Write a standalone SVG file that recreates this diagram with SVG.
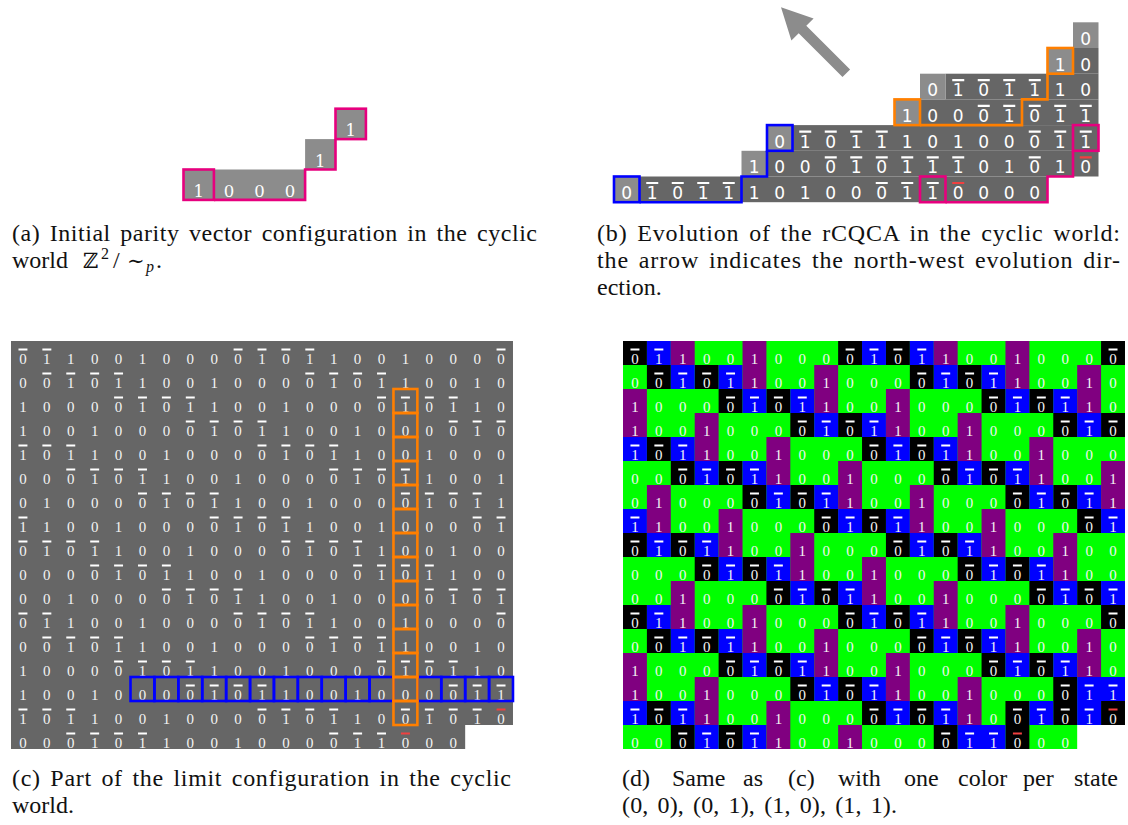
<svg xmlns="http://www.w3.org/2000/svg" xmlns:xlink="http://www.w3.org/1999/xlink" width="1128" height="825" viewBox="0 0 1128 825">
<style>
.ta{font-family:"DejaVu Serif",serif;font-size:16.5px;fill:#fff;text-anchor:middle}
.tb{font-family:"DejaVu Sans",sans-serif;font-size:17px;fill:#fff;text-anchor:middle}
.tc{font-family:"Liberation Serif",serif;font-size:15px;fill:#f4f4f4;text-anchor:middle}
.cap{font-family:"Liberation Serif",serif;font-size:24px;fill:#111;word-spacing:3px}
.box{fill:none;stroke-width:2.6}
.pink{stroke:#e6007e}
.blue{stroke:#0000ff}
.orange{stroke:#ff7f00}
.bar{fill:none;stroke:#fff;stroke-width:2}
.red{fill:none;stroke:#f04040;stroke-width:2}
</style>
<defs>
<path id="gridbars" d="M7.5 8.5h9M31.5 8.5h9M223.5 8.5h9M247.5 8.5h9M271.5 8.5h9M295.5 8.5h9M487.5 8.5h9
M31.5 32.5h9M55.5 32.5h9M79.5 32.5h9M103.5 32.5h9M295.5 32.5h9M319.5 32.5h9M343.5 32.5h9M367.5 32.5h9
M103.5 56.5h9M127.5 56.5h9M151.5 56.5h9M175.5 56.5h9M367.5 56.5h9M391.5 56.5h9M415.5 56.5h9M439.5 56.5h9
M175.5 80.5h9M199.5 80.5h9M223.5 80.5h9M247.5 80.5h9M439.5 80.5h9M463.5 80.5h9M487.5 80.5h9
M7.5 104.5h9M31.5 104.5h9M55.5 104.5h9M247.5 104.5h9M271.5 104.5h9M295.5 104.5h9M319.5 104.5h9
M55.5 128.5h9M79.5 128.5h9M103.5 128.5h9M127.5 128.5h9M319.5 128.5h9M343.5 128.5h9M367.5 128.5h9M391.5 128.5h9
M127.5 152.5h9M151.5 152.5h9M175.5 152.5h9M199.5 152.5h9M391.5 152.5h9M415.5 152.5h9M439.5 152.5h9M463.5 152.5h9
M7.5 176.5h9M199.5 176.5h9M223.5 176.5h9M247.5 176.5h9M271.5 176.5h9M463.5 176.5h9M487.5 176.5h9
M7.5 200.5h9M31.5 200.5h9M55.5 200.5h9M79.5 200.5h9M271.5 200.5h9M295.5 200.5h9M319.5 200.5h9M343.5 200.5h9
M79.5 224.5h9M103.5 224.5h9M127.5 224.5h9M151.5 224.5h9M343.5 224.5h9M367.5 224.5h9M391.5 224.5h9M415.5 224.5h9
M151.5 248.5h9M175.5 248.5h9M199.5 248.5h9M223.5 248.5h9M415.5 248.5h9M439.5 248.5h9M463.5 248.5h9M487.5 248.5h9
M7.5 272.5h9M31.5 272.5h9M223.5 272.5h9M247.5 272.5h9M271.5 272.5h9M295.5 272.5h9M487.5 272.5h9
M31.5 296.5h9M55.5 296.5h9M79.5 296.5h9M103.5 296.5h9M295.5 296.5h9M319.5 296.5h9M343.5 296.5h9M367.5 296.5h9
M103.5 320.5h9M127.5 320.5h9M151.5 320.5h9M175.5 320.5h9M367.5 320.5h9M391.5 320.5h9M415.5 320.5h9M439.5 320.5h9
M175.5 344.5h9M199.5 344.5h9M223.5 344.5h9M247.5 344.5h9M439.5 344.5h9M463.5 344.5h9M487.5 344.5h9
M7.5 368.5h9M31.5 368.5h9M55.5 368.5h9M247.5 368.5h9M271.5 368.5h9M295.5 368.5h9M319.5 368.5h9M391.5 368.5h9M415.5 368.5h9M439.5 368.5h9M463.5 368.5h9
M55.5 392.5h9M79.5 392.5h9M103.5 392.5h9M127.5 392.5h9M319.5 392.5h9M343.5 392.5h9M367.5 392.5h9"/>
<path id="redbars" d="M487.5 368.5h9M391.5 392.5h9"/>
</defs>

<g id="panel-a">
<rect x="183.5" y="169.5" width="121.6" height="30.4" fill="#8c8c8c"/>
<rect x="305.1" y="139.1" width="30.4" height="30.4" fill="#8c8c8c"/>
<rect x="335.5" y="108.7" width="30.4" height="30.4" fill="#8c8c8c"/>
<text class="ta" x="198.7 229.1 259.5 289.9" y="197">1000</text>
<text class="ta" x="320.3" y="166.6">1</text>
<text class="ta" x="350.7" y="136.2">1</text>
<rect class="box pink" x="183.5" y="169.5" width="30.4" height="30.4"/>
<path class="box pink" d="M213.9 199.9H305.1V169.5H335.5V139.1"/>
<rect class="box pink" x="335.5" y="108.7" width="30.4" height="30.4"/>
</g>

<g id="panel-b">
<polygon fill="#8c8c8c" points="850.1,69.5 806.3,25.7 813.6,18.5 781,7.3 791.4,40.5 798.7,33.3 842.5,77.1"/>
<g fill="#666">
<rect x="639.5" y="176.5" width="408" height="25.7"/>
<rect x="767" y="150.8" width="331.5" height="25.7"/>
<rect x="792.5" y="125.1" width="306" height="25.7"/>
<rect x="920" y="99.4" width="178.5" height="25.7"/>
<rect x="945.5" y="73.7" width="153" height="25.7"/>
<rect x="1073" y="48" width="25.5" height="25.7"/>
</g>
<g fill="#8c8c8c">
<rect x="614" y="176.5" width="25.5" height="25.7"/>
<rect x="741.5" y="150.8" width="25.5" height="25.7"/>
<rect x="767" y="125.1" width="25.5" height="25.7"/>
<rect x="894.5" y="99.4" width="25.5" height="25.7"/>
<rect x="920" y="73.7" width="25.5" height="25.7"/>
<rect x="1047.5" y="48" width="25.5" height="25.7"/>
<rect x="1073" y="22.3" width="25.5" height="25.7"/>
</g>
<text class="tb" x="626.75 652.25 677.75 703.25 728.75 754.25 779.75 805.25 830.75 856.25 881.75 907.25 932.75 958.25 983.75 1009.25 1034.75" y="199">01011101000110000</text>
<text class="tb" x="754.25 779.75 805.25 830.75 856.25 881.75 907.25 932.75 958.25 983.75 1009.25 1034.75 1060.25 1085.75" y="173.3">10001011101010</text>
<text class="tb" x="779.75 805.25 830.75 856.25 881.75 907.25 932.75 958.25 983.75 1009.25 1034.75 1060.25 1085.75" y="147.6">0101110100011</text>
<text class="tb" x="907.25 932.75 958.25 983.75 1009.25 1034.75 1060.25 1085.75" y="121.9">10001011</text>
<text class="tb" x="932.75 958.25 983.75 1009.25 1034.75 1060.25 1085.75" y="96.2">0101110</text>
<text class="tb" x="1060.25 1085.75" y="70.5">10</text>
<text class="tb" x="1085.75" y="44.8">0</text>
<path fill="none" stroke="#fff" stroke-width="2.2" d="M646.25 183h12M671.75 183h12M697.25 183h12M722.75 183h12M875.75 183h12M901.25 183h12M926.75 183h12
M824.75 157.3h12M850.25 157.3h12M875.75 157.3h12M901.25 157.3h12M926.75 157.3h12M952.25 157.3h12M1028.75 157.3h12
M799.25 131.6h12M824.75 131.6h12M850.25 131.6h12M875.75 131.6h12M1028.75 131.6h12M1054.25 131.6h12M1079.75 131.6h12
M977.75 105.9h12M1003.25 105.9h12M1028.75 105.9h12M1054.25 105.9h12M1079.75 105.9h12
M952.25 80.2h12M977.75 80.2h12M1003.25 80.2h12M1028.75 80.2h12"/>
<path fill="none" stroke="#f04040" stroke-width="2.2" d="M952.25 183h12M1079.75 157.3h12"/>
<rect class="box blue" x="614" y="176.5" width="25.5" height="25.7"/>
<path class="box blue" d="M639.5 202.2H741.5V176.5H767V150.8"/>
<rect class="box blue" x="767" y="125.1" width="25.5" height="25.7"/>
<rect class="box orange" x="894.5" y="99.4" width="25.5" height="25.7"/>
<path class="box orange" d="M920 125.1H1022V99.4H1047.5V73.7"/>
<rect class="box orange" x="1047.5" y="48" width="25.5" height="25.7"/>
<rect class="box pink" x="920" y="176.5" width="25.5" height="25.7"/>
<path class="box pink" d="M945.5 202.2H1047.5V176.5H1073V150.8"/>
<rect class="box pink" x="1073" y="125.1" width="25.5" height="25.7"/>
</g>

<g id="panel-c" transform="translate(11 341) scale(0.996 1)">
<path fill="#666" d="M0 0H504V384H456V408H0Z"/>
<g class="tc">
<text x="12 36 60 84 108 132 156 180 204 228 252 276 300 324 348 372 396 420 444 468 492" y="23">011001000010110010000</text>
<text x="12 36 60 84 108 132 156 180 204 228 252 276 300 324 348 372 396 420 444 468 492" y="47">001011001000010110010</text>
<text x="12 36 60 84 108 132 156 180 204 228 252 276 300 324 348 372 396 420 444 468 492" y="71">100001011001000010110</text>
<text x="12 36 60 84 108 132 156 180 204 228 252 276 300 324 348 372 396 420 444 468 492" y="95">100100001011001000010</text>
<text x="12 36 60 84 108 132 156 180 204 228 252 276 300 324 348 372 396 420 444 468 492" y="119">101100100001011001000</text>
<text x="12 36 60 84 108 132 156 180 204 228 252 276 300 324 348 372 396 420 444 468 492" y="143">000101100100001011001</text>
<text x="12 36 60 84 108 132 156 180 204 228 252 276 300 324 348 372 396 420 444 468 492" y="167">010000101100100001011</text>
<text x="12 36 60 84 108 132 156 180 204 228 252 276 300 324 348 372 396 420 444 468 492" y="191">110010000101100100001</text>
<text x="12 36 60 84 108 132 156 180 204 228 252 276 300 324 348 372 396 420 444 468 492" y="215">010110010000101100100</text>
<text x="12 36 60 84 108 132 156 180 204 228 252 276 300 324 348 372 396 420 444 468 492" y="239">000010110010000101100</text>
<text x="12 36 60 84 108 132 156 180 204 228 252 276 300 324 348 372 396 420 444 468 492" y="263">001000010110010000101</text>
<text x="12 36 60 84 108 132 156 180 204 228 252 276 300 324 348 372 396 420 444 468 492" y="287">011001000010110010000</text>
<text x="12 36 60 84 108 132 156 180 204 228 252 276 300 324 348 372 396 420 444 468 492" y="311">001011001000010110010</text>
<text x="12 36 60 84 108 132 156 180 204 228 252 276 300 324 348 372 396 420 444 468 492" y="335">100001011001000010110</text>
<text x="12 36 60 84 108 132 156 180 204 228 252 276 300 324 348 372 396 420 444 468 492" y="359">100100001011001000011</text>
<text x="12 36 60 84 108 132 156 180 204 228 252 276 300 324 348 372 396 420 444 468 492" y="383">101100100001011001010</text>
<text x="12 36 60 84 108 132 156 180 204 228 252 276 300 324 348 372 396 420 444" y="407">0001011001000011000</text>
</g>
<use xlink:href="#gridbars" class="bar"/>
<use xlink:href="#redbars" class="red"/>
<g class="box blue">
<rect x="120" y="336" width="24" height="24"/><rect x="144" y="336" width="24" height="24"/><rect x="168" y="336" width="24" height="24"/><rect x="192" y="336" width="24" height="24"/><rect x="216" y="336" width="24" height="24"/><rect x="240" y="336" width="24" height="24"/><rect x="264" y="336" width="24" height="24"/><rect x="288" y="336" width="24" height="24"/><rect x="312" y="336" width="24" height="24"/><rect x="336" y="336" width="24" height="24"/><rect x="360" y="336" width="24" height="24"/><rect x="408" y="336" width="24" height="24"/><rect x="432" y="336" width="24" height="24"/><rect x="456" y="336" width="24" height="24"/><rect x="480" y="336" width="24" height="24"/>
</g>
<g class="box orange">
<rect x="384" y="48" width="24" height="24"/><rect x="384" y="72" width="24" height="24"/><rect x="384" y="96" width="24" height="24"/><rect x="384" y="120" width="24" height="24"/><rect x="384" y="144" width="24" height="24"/><rect x="384" y="168" width="24" height="24"/><rect x="384" y="192" width="24" height="24"/><rect x="384" y="216" width="24" height="24"/><rect x="384" y="240" width="24" height="24"/><rect x="384" y="264" width="24" height="24"/><rect x="384" y="288" width="24" height="24"/><rect x="384" y="312" width="24" height="24"/><rect x="384" y="336" width="24" height="24"/><rect x="384" y="360" width="24" height="24"/>
</g>
</g>

<g id="panel-d" transform="translate(623 341) scale(0.996 1)">
<path fill="#00ff00" d="M0 0H504V384H456V408H0Z"/>
<path fill="#000" d="M0 0h24v24h-24zM216 0h24v24h-24zM264 0h24v24h-24zM480 0h24v24h-24z
M24 24h24v24h-24zM72 24h24v24h-24zM288 24h24v24h-24zM336 24h24v24h-24z
M96 48h24v24h-24zM144 48h24v24h-24zM360 48h24v24h-24zM408 48h24v24h-24z
M168 72h24v24h-24zM216 72h24v24h-24zM432 72h24v24h-24zM480 72h24v24h-24z
M24 96h24v24h-24zM240 96h24v24h-24zM288 96h24v24h-24z
M48 120h24v24h-24zM96 120h24v24h-24zM312 120h24v24h-24zM360 120h24v24h-24z
M120 144h24v24h-24zM168 144h24v24h-24zM384 144h24v24h-24zM432 144h24v24h-24z
M192 168h24v24h-24zM240 168h24v24h-24zM456 168h24v24h-24z
M0 192h24v24h-24zM48 192h24v24h-24zM264 192h24v24h-24zM312 192h24v24h-24z
M72 216h24v24h-24zM120 216h24v24h-24zM336 216h24v24h-24zM384 216h24v24h-24z
M144 240h24v24h-24zM192 240h24v24h-24zM408 240h24v24h-24zM456 240h24v24h-24z
M0 264h24v24h-24zM216 264h24v24h-24zM264 264h24v24h-24zM480 264h24v24h-24z
M24 288h24v24h-24zM72 288h24v24h-24zM288 288h24v24h-24zM336 288h24v24h-24z
M96 312h24v24h-24zM144 312h24v24h-24zM360 312h24v24h-24zM408 312h24v24h-24z
M168 336h24v24h-24zM216 336h24v24h-24zM432 336h24v24h-24z
M24 360h24v24h-24zM240 360h24v24h-24zM288 360h24v24h-24zM384 360h24v24h-24zM432 360h24v24h-24zM480 360h24v24h-24z
M48 384h24v24h-24zM96 384h24v24h-24zM312 384h24v24h-24zM384 384h24v24h-24z"/>
<path fill="#0000ff" d="M24 0h24v24h-24zM240 0h24v24h-24zM288 0h24v24h-24z
M48 24h24v24h-24zM96 24h24v24h-24zM312 24h24v24h-24zM360 24h24v24h-24z
M120 48h24v24h-24zM168 48h24v24h-24zM384 48h24v24h-24zM432 48h24v24h-24z
M192 72h24v24h-24zM240 72h24v24h-24zM456 72h24v24h-24z
M0 96h24v24h-24zM48 96h24v24h-24zM264 96h24v24h-24zM312 96h24v24h-24z
M72 120h24v24h-24zM120 120h24v24h-24zM336 120h24v24h-24zM384 120h24v24h-24z
M144 144h24v24h-24zM192 144h24v24h-24zM408 144h24v24h-24zM456 144h24v24h-24z
M0 168h24v24h-24zM216 168h24v24h-24zM264 168h24v24h-24zM480 168h24v24h-24z
M24 192h24v24h-24zM72 192h24v24h-24zM288 192h24v24h-24zM336 192h24v24h-24z
M96 216h24v24h-24zM144 216h24v24h-24zM360 216h24v24h-24zM408 216h24v24h-24z
M168 240h24v24h-24zM216 240h24v24h-24zM432 240h24v24h-24zM480 240h24v24h-24z
M24 264h24v24h-24zM240 264h24v24h-24zM288 264h24v24h-24z
M48 288h24v24h-24zM96 288h24v24h-24zM312 288h24v24h-24zM360 288h24v24h-24z
M120 312h24v24h-24zM168 312h24v24h-24zM384 312h24v24h-24zM432 312h24v24h-24z
M192 336h24v24h-24zM240 336h24v24h-24zM456 336h24v24h-24zM480 336h24v24h-24z
M0 360h24v24h-24zM48 360h24v24h-24zM264 360h24v24h-24zM312 360h24v24h-24zM408 360h24v24h-24zM456 360h24v24h-24z
M72 384h24v24h-24zM120 384h24v24h-24zM336 384h24v24h-24zM360 384h24v24h-24z"/>
<path fill="#800080" d="M48 0h24v24h-24zM120 0h24v24h-24zM312 0h24v24h-24zM384 0h24v24h-24z
M120 24h24v24h-24zM192 24h24v24h-24zM384 24h24v24h-24zM456 24h24v24h-24z
M0 48h24v24h-24zM192 48h24v24h-24zM264 48h24v24h-24zM456 48h24v24h-24z
M0 72h24v24h-24zM72 72h24v24h-24zM264 72h24v24h-24zM336 72h24v24h-24z
M72 96h24v24h-24zM144 96h24v24h-24zM336 96h24v24h-24zM408 96h24v24h-24z
M144 120h24v24h-24zM216 120h24v24h-24zM408 120h24v24h-24zM480 120h24v24h-24z
M24 144h24v24h-24zM216 144h24v24h-24zM288 144h24v24h-24zM480 144h24v24h-24z
M24 168h24v24h-24zM96 168h24v24h-24zM288 168h24v24h-24zM360 168h24v24h-24z
M96 192h24v24h-24zM168 192h24v24h-24zM360 192h24v24h-24zM432 192h24v24h-24z
M168 216h24v24h-24zM240 216h24v24h-24zM432 216h24v24h-24z
M48 240h24v24h-24zM240 240h24v24h-24zM312 240h24v24h-24z
M48 264h24v24h-24zM120 264h24v24h-24zM312 264h24v24h-24zM384 264h24v24h-24z
M120 288h24v24h-24zM192 288h24v24h-24zM384 288h24v24h-24zM456 288h24v24h-24z
M0 312h24v24h-24zM192 312h24v24h-24zM264 312h24v24h-24zM456 312h24v24h-24z
M0 336h24v24h-24zM72 336h24v24h-24zM264 336h24v24h-24zM336 336h24v24h-24z
M72 360h24v24h-24zM144 360h24v24h-24zM336 360h24v24h-24z
M144 384h24v24h-24zM216 384h24v24h-24z"/>
<g class="tc">
<text x="12 36 60 84 108 132 156 180 204 228 252 276 300 324 348 372 396 420 444 468 492" y="23">011001000010110010000</text>
<text x="12 36 60 84 108 132 156 180 204 228 252 276 300 324 348 372 396 420 444 468 492" y="47">001011001000010110010</text>
<text x="12 36 60 84 108 132 156 180 204 228 252 276 300 324 348 372 396 420 444 468 492" y="71">100001011001000010110</text>
<text x="12 36 60 84 108 132 156 180 204 228 252 276 300 324 348 372 396 420 444 468 492" y="95">100100001011001000010</text>
<text x="12 36 60 84 108 132 156 180 204 228 252 276 300 324 348 372 396 420 444 468 492" y="119">101100100001011001000</text>
<text x="12 36 60 84 108 132 156 180 204 228 252 276 300 324 348 372 396 420 444 468 492" y="143">000101100100001011001</text>
<text x="12 36 60 84 108 132 156 180 204 228 252 276 300 324 348 372 396 420 444 468 492" y="167">010000101100100001011</text>
<text x="12 36 60 84 108 132 156 180 204 228 252 276 300 324 348 372 396 420 444 468 492" y="191">110010000101100100001</text>
<text x="12 36 60 84 108 132 156 180 204 228 252 276 300 324 348 372 396 420 444 468 492" y="215">010110010000101100100</text>
<text x="12 36 60 84 108 132 156 180 204 228 252 276 300 324 348 372 396 420 444 468 492" y="239">000010110010000101100</text>
<text x="12 36 60 84 108 132 156 180 204 228 252 276 300 324 348 372 396 420 444 468 492" y="263">001000010110010000101</text>
<text x="12 36 60 84 108 132 156 180 204 228 252 276 300 324 348 372 396 420 444 468 492" y="287">011001000010110010000</text>
<text x="12 36 60 84 108 132 156 180 204 228 252 276 300 324 348 372 396 420 444 468 492" y="311">001011001000010110010</text>
<text x="12 36 60 84 108 132 156 180 204 228 252 276 300 324 348 372 396 420 444 468 492" y="335">100001011001000010110</text>
<text x="12 36 60 84 108 132 156 180 204 228 252 276 300 324 348 372 396 420 444 468 492" y="359">100100001011001000011</text>
<text x="12 36 60 84 108 132 156 180 204 228 252 276 300 324 348 372 396 420 444 468 492" y="383">101100100001011001010</text>
<text x="12 36 60 84 108 132 156 180 204 228 252 276 300 324 348 372 396 420 444" y="407">0001011001000011000</text>
</g>
<use xlink:href="#gridbars" class="bar"/>
<use xlink:href="#redbars" class="red"/>
</g>

<g id="captions" class="cap">
<text x="12" y="241" textLength="525" lengthAdjust="spacing">(a) Initial parity vector configuration in the cyclic</text>
<text y="268"><tspan x="12">world</tspan><tspan x="83" font-family="DejaVu Serif" font-size="21">ℤ</tspan><tspan x="101" y="259" font-size="16">2</tspan><tspan x="113" y="268">/</tspan><tspan x="127" font-family="DejaVu Serif" font-size="21">∼</tspan><tspan x="146" y="272" font-size="16" font-style="italic">p</tspan><tspan x="156" y="268">.</tspan></text>
<text x="597" y="241" textLength="523" lengthAdjust="spacing">(b) Evolution of the rCQCA in the cyclic world:</text>
<text x="597" y="268" textLength="523" lengthAdjust="spacing">the arrow indicates the north-west evolution dir-</text>
<text x="597" y="295">ection.</text>
<text x="12" y="786" textLength="499" lengthAdjust="spacing">(c) Part of the limit configuration in the cyclic</text>
<text x="12" y="813">world.</text>
<text y="786"><tspan x="622">(d)</tspan><tspan x="672">Same</tspan><tspan x="743">as</tspan><tspan x="788">(c)</tspan><tspan x="838">with</tspan><tspan x="904">one</tspan><tspan x="958">color</tspan><tspan x="1023">per</tspan><tspan x="1074">state</tspan></text>
<text x="622" y="813" textLength="275" lengthAdjust="spacing">(0, 0), (0, 1), (1, 0), (1, 1).</text>
</g>
</svg>
